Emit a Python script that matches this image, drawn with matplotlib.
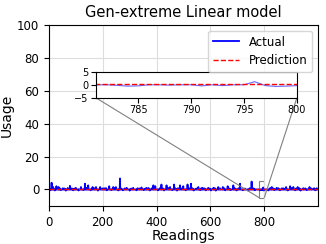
import numpy as np
import matplotlib.pyplot as plt
from mpl_toolkits.axes_grid1.inset_locator import mark_inset

# readings 0..999
n_readings = 1000

# spikes (reading index, usage)
spike_idx = [10, 16, 28, 36, 52, 78, 100, 119, 134, 146, 162, 175, 190, 205,
             224, 239, 249, 264, 289, 313, 344, 363, 388, 395, 418, 437, 450,
             465, 487, 499, 515, 528, 555, 571, 592, 611, 629, 646, 664, 685,
             710, 753, 828, 846, 866, 881, 896, 908, 924, 945, 968, 985]
spike_val = [4.1, 1.5, 2.0, 1.5, 0.8, 2.2, 1.0, 1.5, 3.5, 2.5, 1.5, 1.5, 1.5, 0.8,
             2.0, 1.5, 1.5, 6.7, 1.0, 1.0, 1.2, 1.0, 2.5, 2.0, 3.0, 2.5, 1.5,
             3.0, 2.5, 2.0, 3.0, 3.5, 1.5, 1.0, 1.0, 1.0, 1.5, 1.5, 2.0, 2.5,
             3.5, 4.8, 1.5, 1.0, 0.8, 1.5, 2.0, 1.5, 1.5, 0.8, 1.5, 0.8]

# small bumps near the baseline
bump_idx = [40, 58, 70, 85, 95, 140, 168, 198, 212, 244, 268, 282, 306, 330,
            338, 358, 370, 382, 412, 424, 444, 470, 480, 493, 520, 533, 548,
            566, 578, 598, 616, 636, 650, 670, 690, 704, 728, 746, 760, 822,
            834, 852, 872, 902, 918, 930, 952, 975, 995]
bump_val = [0.8, 0.6, 0.9, 0.7, 0.6, 1.0, 0.8, 0.7, 0.9, 0.8, 0.6, 0.7, 0.6, 0.8,
            0.7, 0.6, 0.9, 0.7, 0.8, 0.6, 0.9, 0.7, 0.8, 0.6, 0.9, 0.7, 0.6,
            0.8, 0.7, 0.6, 0.8, 0.7, 0.9, 0.6, 0.8, 0.7, 0.6, 0.8, 0.7, 0.9,
            0.6, 0.8, 0.7, 0.9, 0.6, 0.8, 0.7, 0.6, 0.8]

# small dips below zero
dip_idx = [5, 22, 44, 63, 90, 110, 128, 155, 182, 215, 232, 258, 275, 300,
           325, 352, 375, 405, 428, 458, 476, 508, 538, 562, 583, 602, 620,
           655, 675, 697, 720, 740, 765, 815, 838, 858, 887, 915, 935, 958, 990]
dip_val = [-0.5, -0.6, -0.4, -0.7, -0.5, -0.6, -0.4, -0.5, -0.7, -0.5, -0.4,
           -0.6, -0.5, -0.7, -0.5, -0.4, -0.6, -0.5, -0.6, -0.4, -0.7, -0.5,
           -0.6, -0.4, -0.5, -0.6, -0.7, -0.5, -0.4, -0.6, -0.5, -0.7, -0.5,
           -0.6, -0.4, -0.5, -0.6, -0.5, -0.7, -0.4, -0.5]

# zoomed section 782..800
zoom_idx = list(range(782, 801))
zoom_val = [0.0, -0.2, -0.5, -0.4, 0.0, 0.0, -0.1, 0.0, 0.0, -0.4,
            0.0, -0.3, 0.0, 0.0, 1.2, -0.3, -0.6, -0.5, -0.3]

prediction_level = 0.3

readings = np.arange(n_readings)
actual = np.zeros(n_readings)
actual[bump_idx] = bump_val
actual[spike_idx] = spike_val
actual[dip_idx] = dip_val
actual[zoom_idx] = zoom_val
prediction = np.full(n_readings, prediction_level)

fig = plt.figure(figsize=(3.26, 2.44), dpi=100)
ax = fig.add_axes([0.150, 0.156, 0.825, 0.742])
ax.plot(readings, actual, color='blue', lw=1.3, label='Actual')
ax.plot(readings, prediction, color='red', lw=1.0, ls='--', label='Prediction')
ax.set_xlim(0, 999)
ax.set_ylim(-10, 100)
ax.set_xticks([0, 200, 400, 600, 800])
ax.set_yticks([0, 20, 40, 60, 80, 100])
ax.tick_params(labelsize=8.5)
ax.grid(color='#dddddd')
ax.set_title('Gen-extreme Linear model', fontsize=10.5)
ax.set_xlabel('Readings', fontsize=10, labelpad=0)
ax.set_ylabel('Usage', fontsize=10, labelpad=2)
ax.legend(loc='upper right', fontsize=8.5, handlelength=2.2)

# inset
axins = ax.inset_axes([0.175, 0.597, 0.747, 0.144])
axins.plot(readings, actual, color='blue', lw=0.8, alpha=0.6)
axins.plot(readings, prediction, color='red', lw=1.0, ls='--')
axins.set_xlim(781, 800)
axins.set_ylim(-5, 5)
axins.set_xticks([785, 790, 795, 800])
axins.set_yticks([-5, 0, 5])
axins.tick_params(labelsize=7, pad=2)
mark_inset(ax, axins, loc1=3, loc2=4, fc='none', ec='0.5', lw=0.8)

plt.savefig('out.png')
